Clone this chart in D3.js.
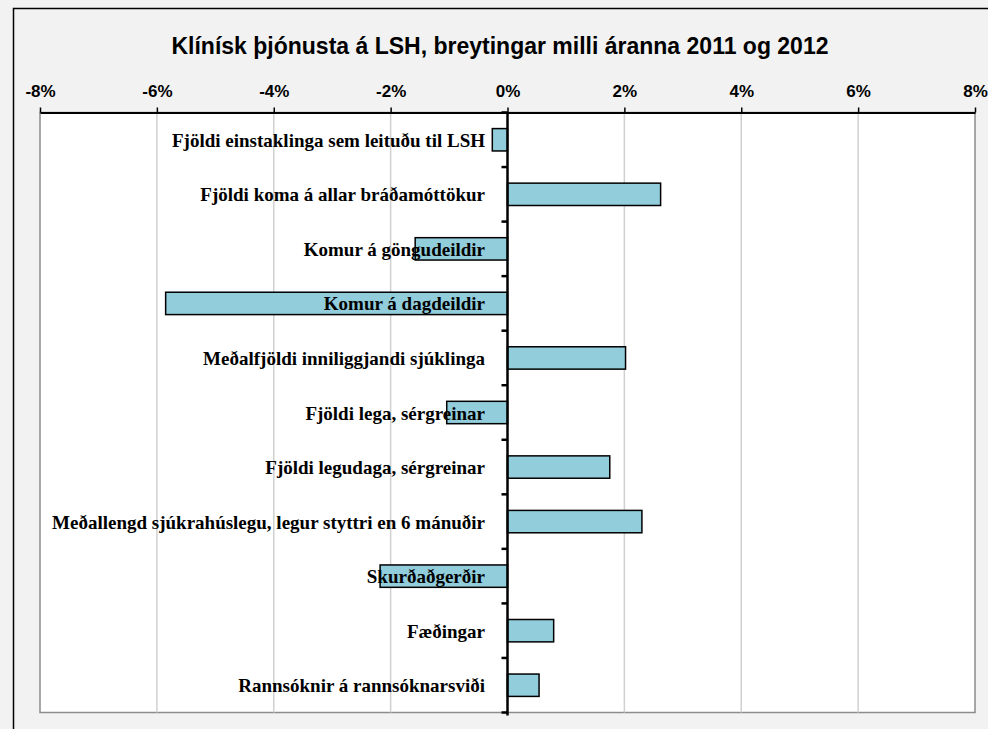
<!DOCTYPE html>
<html>
<head>
<meta charset="utf-8">
<script src="https://cdn.jsdelivr.net/npm/d3@7"></script>
<style>
  body { margin: 0; background: #f2f2f2; }
  svg { display: block; }
</style>
</head>
<body>
<svg id="chart"></svg>
<script>
// data (per cent change 2011 -> 2012)
const categories = [
    "Fjöldi einstaklinga sem leituðu til LSH",
    "Fjöldi koma á allar bráðamóttökur",
    "Komur á göngudeildir",
    "Komur á dagdeildir",
    "Meðalfjöldi inniliggjandi sjúklinga",
    "Fjöldi lega, sérgreinar",
    "Fjöldi legudaga, sérgreinar",
    "Meðallengd sjúkrahúslegu, legur styttri en 6 mánuðir",
    "Skurðaðgerðir",
    "Fæðingar",
    "Rannsóknir á rannsóknarsviði"
];
const changes = [-0.26, 2.62, -1.58, -5.85, 2.02, -1.04, 1.75, 2.30, -2.18, 0.79, 0.54];
const tickValues = [-8, -6, -4, -2, 0, 2, 4, 6, 8];
const title = "Klínísk þjónusta á LSH, breytingar milli áranna 2011 og 2012";

var width = 988,
    height = 729,
    plot = { left: 40, right: 975, top: 112.5, bottom: 712.5 };

const svg = d3.select("#chart").attr("width", width).attr("height", height);

// chart area frame
svg.append("rect")
    .attr("x", 13.5).attr("y", 8.5)
    .attr("width", 1000).attr("height", 760)
    .attr("fill", "#f2f2f2")
    .attr("stroke", "#000").attr("stroke-width", 1.5);

let x = d3.scaleLinear().domain([-8, 8]).range([plot.left, plot.right]);
let y = d3.scaleBand().domain(categories).range([plot.top, plot.bottom]).paddingInner(0.59).paddingOuter(0.295);

// plot area
svg.append("rect")
    .attr("x", plot.left).attr("y", plot.top)
    .attr("width", plot.right - plot.left).attr("height", plot.bottom - plot.top)
    .attr("fill", "#fff")
    .attr("stroke", "#8c8c8c").attr("stroke-width", 1.5);

// gridlines
svg.append("g")
    .selectAll("line")
    .data(tickValues.filter(d => d !== -8 && d !== 8 && d !== 0))
    .enter()
    .append("line")
    .attr("x1", d => x(d)).attr("x2", d => x(d))
    .attr("y1", plot.top).attr("y2", plot.bottom)
    .attr("stroke", "#d0d0d0").attr("stroke-width", 1.5);

// top value axis
const xAxis = svg.append("g")
    .attr("transform", "translate(0," + plot.top + ")")
    .call(d3.axisTop(x).tickValues(tickValues).tickSize(5).tickSizeOuter(0).tickFormat(d => d + "%"));
xAxis.select(".domain").attr("stroke", "#000").attr("stroke-width", 2);
xAxis.selectAll(".tick line").attr("stroke", "#000").attr("stroke-width", 1.5);
xAxis.selectAll(".tick text")
    .attr("y", -15.5)
    .attr("dy", null)
    .style("font-family", "'Liberation Sans', Arial, sans-serif")
    .style("font-weight", "bold")
    .style("font-size", "17px")
    .attr("fill", "#000");

// bars
svg.append("g")
    .selectAll("rect")
    .data(categories)
    .enter()
    .append("rect")
    .attr("x", (d, i) => x(Math.min(0, changes[i])))
    .attr("width", (d, i) => Math.abs(x(changes[i]) - x(0)))
    .attr("y", d => y(d))
    .attr("height", y.bandwidth())
    .attr("fill", "#92cddc")
    .attr("stroke", "#000").attr("stroke-width", 1.5);

// category axis at zero
const step = (plot.bottom - plot.top) / categories.length;
svg.append("line")
    .attr("x1", x(0)).attr("x2", x(0))
    .attr("y1", plot.top).attr("y2", plot.bottom + 3)
    .attr("stroke", "#000").attr("stroke-width", 2.5);
svg.append("g")
    .selectAll("line")
    .data(d3.range(categories.length + 1))
    .enter()
    .append("line")
    .attr("x1", x(0) - 6).attr("x2", x(0))
    .attr("y1", i => plot.top + i * step).attr("y2", i => plot.top + i * step)
    .attr("stroke", "#000").attr("stroke-width", 2.5);

// category labels (drawn on top of the bars)
svg.append("g")
    .selectAll("text")
    .data(categories)
    .enter()
    .append("text")
    .attr("x", 485)
    .attr("y", d => y(d) + y.bandwidth() / 2 + 7)
    .attr("text-anchor", "end")
    .style("font-family", "'Liberation Serif', 'Times New Roman', serif")
    .style("font-weight", "bold")
    .style("font-size", "19px")
    .text(d => d);

// title
svg.append("text")
    .attr("x", 500).attr("y", 54)
    .attr("text-anchor", "middle")
    .style("font-family", "'Liberation Sans', Arial, sans-serif")
    .style("font-weight", "bold")
    .style("font-size", "23px")
    .text(title);
</script>
</body>
</html>
